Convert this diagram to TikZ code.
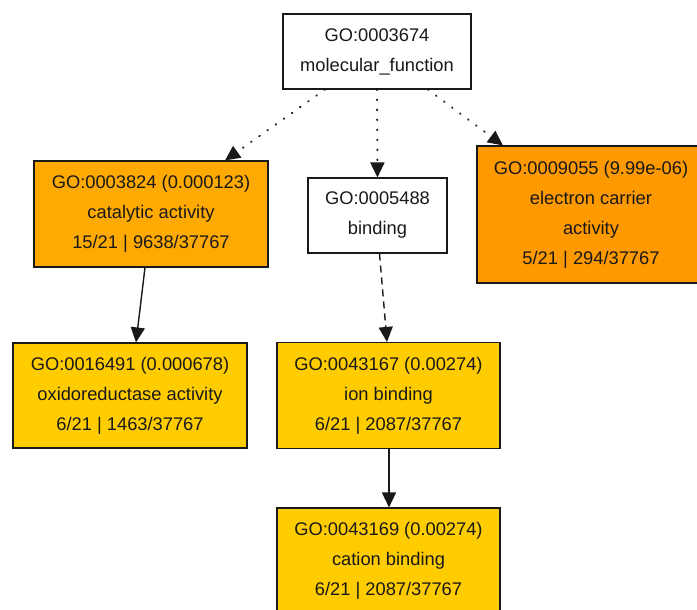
\documentclass[tikz,border=0pt]{standalone}
\usepackage{fontspec}
\setmainfont{Liberation Sans}
\usetikzlibrary{arrows.meta}
\definecolor{goyellow}{HTML}{FFCC00}
\definecolor{goamber}{HTML}{FFAA00}
\definecolor{goorange}{HTML}{FF9900}
\begin{document}
\begin{tikzpicture}[x=1pt,y=-1pt,
  gobox/.style={draw=black!90, line width=1.1pt, rectangle, inner sep=0pt, align=center,
    font=\fontsize{18.3}{30}\selectfont, text=black!90},
  conn/.style={line width=1.4pt, draw=black!90, -{Triangle[length=15pt,width=14pt]}},
  dotconn/.style={conn, line cap=round, dash pattern=on 0.6pt off 9.4pt, line width=2pt},
  dashconn/.style={conn, dash pattern=on 7pt off 5pt}]
\useasboundingbox (0,0) rectangle (697,610);
\node[gobox, fill=white, minimum width=188pt, minimum height=75pt] (top) at (377,51.5)
  {GO:0003674\\molecular\_function};
\node[gobox, fill=goamber, minimum width=234pt, minimum height=106pt] (cat) at (151,214)
  {GO:0003824 (0.000123)\\catalytic activity\\15/21 | 9638/37767};
\node[gobox, fill=white, minimum width=139pt, minimum height=75pt] (bind) at (377.5,215.5)
  {GO:0005488\\binding};
\node[gobox, fill=goorange, minimum width=228pt, minimum height=137pt] (elec) at (591,214.5)
  {GO:0009055 (9.99e-06)\\electron carrier\\activity\\5/21 | 294/37767};
\node[gobox, fill=goyellow, minimum width=234pt, minimum height=105pt] (oxi) at (130,395.5)
  {GO:0016491 (0.000678)\\oxidoreductase activity\\6/21 | 1463/37767};
\node[gobox, fill=goyellow, minimum width=223pt, minimum height=106pt] (ion) at (388.5,395.5)
  {GO:0043167 (0.00274)\\ion binding\\6/21 | 2087/37767};
\node[gobox, fill=goyellow, minimum width=223pt, minimum height=106pt] (cation) at (388.5,561)
  {GO:0043169 (0.00274)\\cation binding\\6/21 | 2087/37767};
\draw[dotconn] ([xshift=-52pt]top.south) -- ([xshift=74pt]cat.north);
\draw[dotconn] (top.south) -- (bind.north);
\draw[dotconn] ([xshift=51pt]top.south) -- ([xshift=-88pt]elec.north);
\draw[conn] ([xshift=-6pt]cat.south) -- ([xshift=6pt]oxi.north);
\draw[dashconn] ([xshift=2pt]bind.south) -- ([xshift=-1.5pt]ion.north);
\draw[conn] ([xshift=0.5pt]ion.south) -- ([xshift=0.5pt]cation.north);
\end{tikzpicture}
\end{document}
